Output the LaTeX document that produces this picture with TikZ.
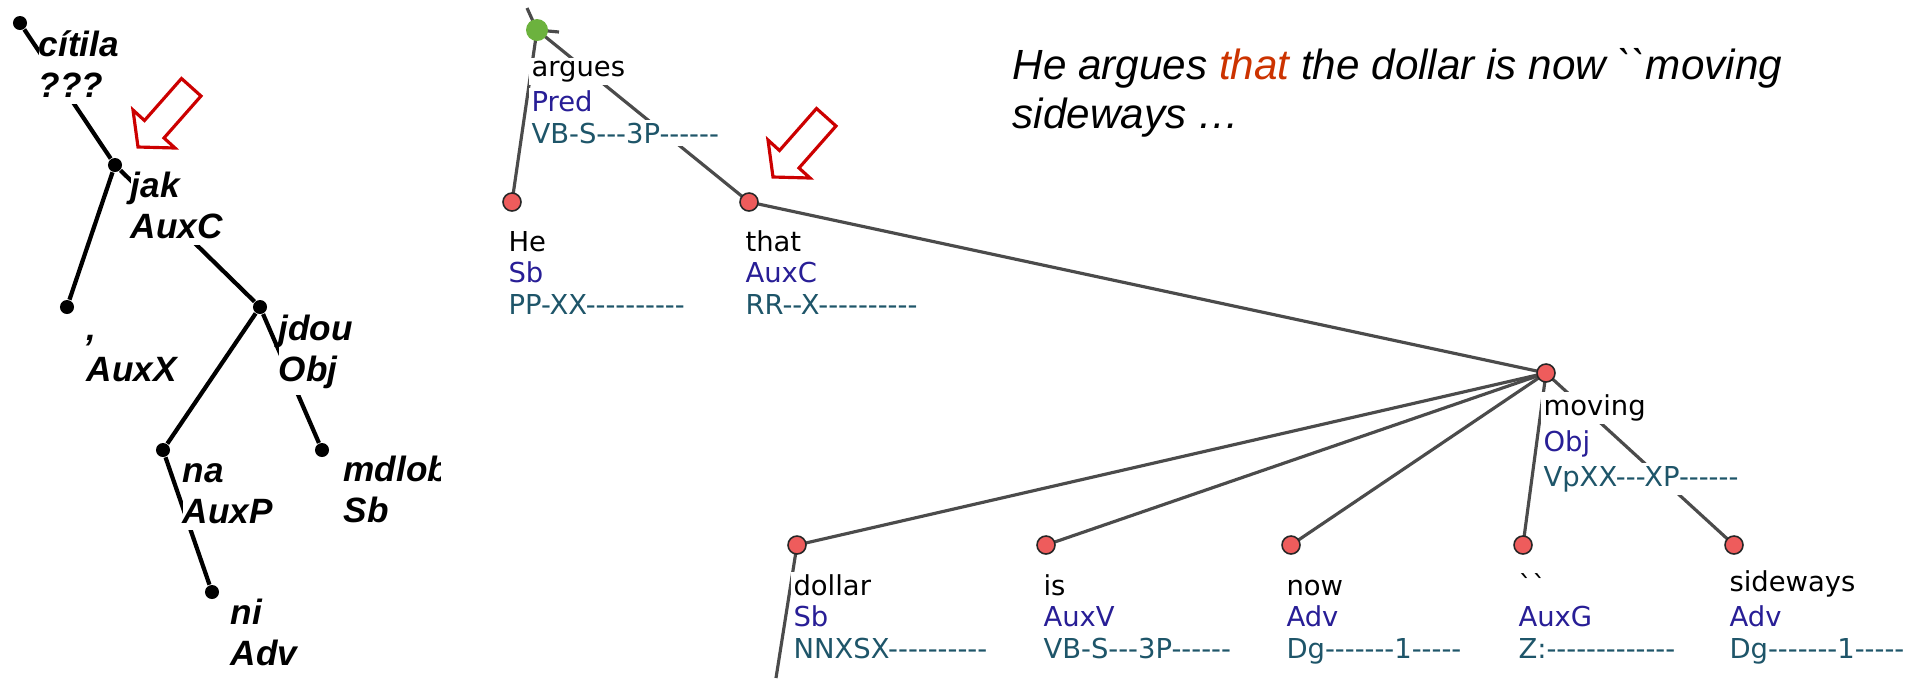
\documentclass[tikz,border=0pt]{standalone}
\usepackage{fontspec}
\usepackage{xcolor}
\usetikzlibrary{positioning,backgrounds}
\newfontfamily\pdtfont{Liberation Sans}[Ligatures=TeXOff]
\newfontfamily\tredfont{DejaVu Sans}[Ligatures=TeXOff]
\definecolor{dotred}{RGB}{238,92,92}
\definecolor{rootgreen}{RGB}{108,178,62}
\definecolor{edgegray}{RGB}{75,75,75}
\definecolor{afunblue}{RGB}{40,30,150}
\definecolor{tagteal}{RGB}{30,85,105}
\definecolor{arrowred}{RGB}{204,0,0}
\definecolor{thatred}{RGB}{204,51,0}
\setlength{\fboxsep}{0.8pt}
\newcommand{\wb}[1]{\colorbox{white}{#1}}
\newcommand{\af}[1]{\wb{\color{afunblue}#1}}
\newcommand{\tg}[1]{\wb{\color{tagteal}#1}}

\begin{document}
\begin{tikzpicture}[x=0.01cm, y=-0.01cm,
    ldot/.style={circle, fill=black, inner sep=0pt, minimum size=0.14cm},
    ledge/.style={line width=1.2pt},
    llab/.style={anchor=base west, fill=white, inner xsep=0pt, inner ysep=2pt, align=left,
      font=\pdtfont\bfseries\itshape\fontsize{10}{11.4}\selectfont},
    tdot/.style={circle, draw=black!85, line width=0.45pt, fill=dotred, inner sep=0pt, minimum size=0.18cm},
    troot/.style={circle, fill=rootgreen, inner sep=0pt, minimum size=0.22cm},
    tedge/.style={draw=edgegray, line width=0.9pt},
    tlab/.style={anchor=base west, inner sep=0pt, align=left,
      font=\tredfont\fontsize{7.8}{8.9}\selectfont},
    hollow arrow/.pic={
      \draw[arrowred, line width=0.9pt, line join=miter]
        (0,0) -- (37,1) -- (26,-9) -- (63,-51) -- (43.5,-68.5) -- (6.5,-26.5) -- (-5,-37) -- cycle;}]
    \useasboundingbox (0,0) rectangle (1918,678);

    % Czech tree
    \begin{scope}
      \clip (0,0) rectangle (440,678);
      \node (citila) at (20,23) [ldot] {};
      \node (jak) at (115,165) [ldot] {};
      \node (comma) at (67,307) [ldot] {};
      \node (jdou) at (260,307) [ldot] {};
      \node (na) at (163,450) [ldot] {};
      \node (mdloby) at (322,450) [ldot] {};
      \node (ni) at (212,592) [ldot] {};

      \draw[ledge] (citila) -- (jak);
      \draw[ledge] (jak) -- (comma);
      \draw[ledge] (jak) -- (jdou) -- (na) -- (ni);
      \draw[ledge] (jdou) -- (mdloby);

      % labels sit on the baseline of their last line
      \node (citilaL) at (38,97) [llab] {cítila\\???};
      \node (jakL) at (130,238) [llab] {jak\\AuxC};
      \node (commaL) at (86,381) [llab] {,\\AuxX};
      \node (jdouL) at (278,381) [llab] {jdou\\Obj};
      \node (naL) at (182,523) [llab] {na\\AuxP};
      \node (mdlobyL) at (343,522) [llab] {mdloby\\Sb};
      \node (niL) at (230,665) [llab] {ni\\Adv};
    \end{scope}
    \pic at (138,147) {hollow arrow};

    % English tree
    \node (argues) at (537,30) [troot] {};
    \node (he) at (512,202) [tdot] {};
    \node (that) at (749,202) [tdot] {};
    \node (moving) at (1546,373) [tdot] {};
    \node (dollar) at (797,545) [tdot] {};
    \node (is) at (1046,545) [tdot] {};
    \node (now) at (1291,545) [tdot] {};
    \node (quote) at (1523,545) [tdot] {};
    \node (sideways) at (1734,545) [tdot] {};
    \coordinate (argtop) at (527,8);
    \coordinate (argside) at (559,32);
    \coordinate (dolchild) at (776,678);

    \begin{scope}[on background layer]
      \draw[tedge] (argues.center) -- (argtop);
      \draw[tedge] (argues.center) -- (argside);
      \draw[tedge] (argues.center) -- (he.center);
      \draw[tedge] (argues.center) -- (that.center) -- (moving.center);
      \draw[tedge] (moving.center) -- (dollar.center);
      \draw[tedge] (moving.center) -- (is.center);
      \draw[tedge] (moving.center) -- (now.center);
      \draw[tedge] (moving.center) -- (quote.center);
      \draw[tedge] (moving.center) -- (sideways.center);
      \draw[tedge] (dollar.center) -- (dolchild);
    \end{scope}

    \node (arguesL) at (528,143) [tlab] {\wb{argues}\\\af{Pred}\\\tg{VB-S---3P------}};
    \node (heL) at (505,314) [tlab] {\wb{He}\\\af{Sb}\\\tg{PP-XX----------}};
    \node (thatL) at (742,314) [tlab] {\wb{that}\\\af{AuxC}\\\tg{RR--X----------}};
    \node (movingL) at (1540,486) [tlab] {\wb{moving}\\\af{Obj}\\\tg{VpXX---XP------}};
    \node (dollarL) at (790,658) [tlab] {\wb{dollar}\\\af{Sb}\\\tg{NNXSX----------}};
    \node (isL) at (1040,658) [tlab] {\wb{is}\\\af{AuxV}\\\tg{VB-S---3P------}};
    \node (nowL) at (1283,658) [tlab] {\wb{now}\\\af{Adv}\\\tg{Dg-------1-----}};
    \node (quoteL) at (1515,658) [tlab] {\wb{``}\\\af{AuxG}\\\tg{Z:-------------}};
    \node (sidewaysL) at (1726,658) [tlab] {\wb{sideways}\\\af{Adv}\\\tg{Dg-------1-----}};
    \pic at (773,177) {hollow arrow};

    % sentence
    \node (sentence) at (1012,128) [anchor=base west, align=left, inner sep=0pt,
      font=\pdtfont\itshape\fontsize{12}{13.7}\selectfont]
      {He argues \textcolor{thatred}{that} the dollar is now ``moving\\sideways …};
\end{tikzpicture}
\end{document}
